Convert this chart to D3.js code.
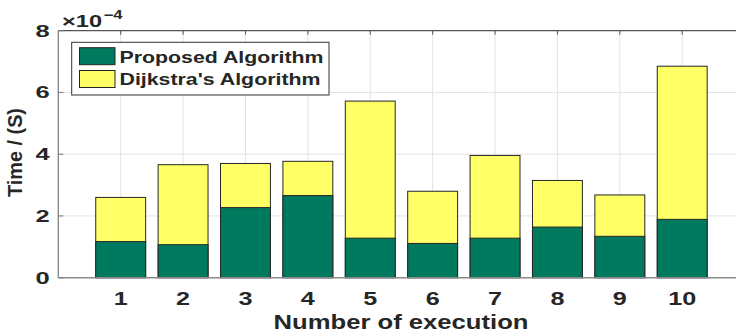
<!DOCTYPE html>
<html>
<head>
<meta charset="utf-8">
<script src="https://cdn.jsdelivr.net/npm/d3@7/dist/d3.min.js"></script>
<style>
  html, body { margin: 0; padding: 0; background: #fff; }
  svg { display: block; }
  text { font-family: "Liberation Sans", Arial, sans-serif; font-weight: bold; fill: #262626; }
</style>
</head>
<body>
<svg id="chart" width="736" height="335"></svg>
<script>
// Execution time per run (seconds)
const runs = [1, 2, 3, 4, 5, 6, 7, 8, 9, 10];
const proposed = [1.17e-4, 1.07e-4, 2.27e-4, 2.66e-4, 1.28e-4, 1.11e-4, 1.28e-4, 1.64e-4, 1.34e-4, 1.89e-4];
const dijkstra = [2.60e-4, 3.66e-4, 3.70e-4, 3.77e-4, 5.72e-4, 2.80e-4, 3.96e-4, 3.15e-4, 2.68e-4, 6.85e-4];
const seriesNames = ["Proposed Algorithm", "Dijkstra's Algorithm"];
const yTicks = [0, 2e-4, 4e-4, 6e-4, 8e-4];
const exponent = -4;

const plot = { left: 58.3, right: 744.6, top: 30.7, bottom: 277.7 };
const SX = 1.4; // horizontal stretch of the lettering

const green = "#007a5e", yellow = "#ffff66";

const svg = d3.select("#chart");
const x = d3.scaleLinear().domain([0, 11]).range([plot.left, plot.right]);
const y = d3.scaleLinear().domain([0, 8e-4]).range([plot.bottom, plot.top]);
const barW = x(0.8) - x(0);

// stretched text helper
function label(g, txt, px, py, opts) {
  return g.append("text")
    .attr("transform", `translate(${px},${py}) scale(${opts.sx || SX},1)`)
    .attr("font-size", opts.size)
    .attr("text-anchor", opts.anchor || "middle")
    .text(txt);
}

// text with a fixed rendered width
function fitted(g, txt, px, py, size, width, anchor) {
  return g.append("text")
    .attr("x", px).attr("y", py)
    .attr("font-size", size)
    .attr("text-anchor", anchor || "start")
    .attr("textLength", width).attr("lengthAdjust", "spacingAndGlyphs")
    .text(txt);
}

// grid
const grid = svg.append("g").attr("stroke", "#e3e3e3").attr("stroke-width", 1);
grid.selectAll("line.v").data(runs).join("line")
  .attr("x1", d => x(d)).attr("x2", d => x(d))
  .attr("y1", plot.top).attr("y2", plot.bottom);
grid.selectAll("line.h").data(yTicks.slice(1, -1)).join("line")
  .attr("x1", plot.left).attr("x2", plot.right)
  .attr("y1", d => y(d)).attr("y2", d => y(d));

// bars: Dijkstra behind, Proposed in front
const bars = svg.append("g").attr("stroke", "#262626").attr("stroke-width", 1);
bars.selectAll("rect.dij").data(runs).join("rect")
  .attr("x", d => x(d) - barW / 2)
  .attr("width", barW)
  .attr("y", (d, i) => y(dijkstra[i]))
  .attr("height", (d, i) => y(0) - y(dijkstra[i]))
  .attr("fill", yellow);
bars.selectAll("rect.prop").data(runs).join("rect")
  .attr("x", d => x(d) - barW / 2)
  .attr("width", barW)
  .attr("y", (d, i) => y(proposed[i]))
  .attr("height", (d, i) => y(0) - y(proposed[i]))
  .attr("fill", green);

// axes box
const axes = svg.append("g").attr("fill", "none");
axes.append("line").attr("x1", plot.left).attr("x2", plot.right).attr("y1", plot.top).attr("y2", plot.top)
  .attr("stroke", "#555").attr("stroke-width", 1.2);
axes.append("line").attr("x1", plot.left).attr("x2", plot.right).attr("y1", plot.bottom).attr("y2", plot.bottom)
  .attr("stroke", "#8a8a8a").attr("stroke-width", 1.6);
axes.append("line").attr("x1", plot.left).attr("x2", plot.left).attr("y1", plot.top).attr("y2", plot.bottom)
  .attr("stroke", "#8a8a8a").attr("stroke-width", 1.4);

// tick marks (inward)
axes.selectAll("line.tt").data(runs).join("line")
  .attr("x1", d => x(d)).attr("x2", d => x(d))
  .attr("y1", plot.top).attr("y2", plot.top + 4)
  .attr("stroke", "#555");
axes.selectAll("line.lt").data(yTicks).join("line")
  .attr("x1", plot.left).attr("x2", plot.left + 5)
  .attr("y1", d => y(d)).attr("y2", d => y(d))
  .attr("stroke", "#777");

// tick labels
const tl = svg.append("g");
runs.forEach(r => label(tl, String(r), x(r), 304.8, { size: 18 }));
yTicks.forEach(v => label(tl, d3.format("d")(Math.round(v / Math.pow(10, exponent))), 49.8, y(v) + 6, { size: 17, anchor: "end", sx: 1.5 }));

// exponent note
const ex = svg.append("g");
fitted(ex, "\u00d710", 62, 26.5, 17, 40);
fitted(ex, "\u22124", 103.5, 18.5, 12, 19);

// axis titles
fitted(svg, "Number of execution", 401, 328.5, 19.5, 255, "middle");
svg.append("text")
  .attr("transform", "translate(21.5,152.5) rotate(-90)")
  .attr("font-size", 19.5).attr("text-anchor", "middle")
  .attr("textLength", 89).attr("lengthAdjust", "spacingAndGlyphs")
  .text("Time / (S)");

// legend
const lg = svg.append("g");
lg.append("rect").attr("x", 71.7).attr("y", 42.3).attr("width", 257.3).attr("height", 52.7)
  .attr("fill", "#fff").attr("stroke", "#333").attr("stroke-width", 1);
const legendRows = [
  { name: seriesNames[0], color: green, top: 47.7 },
  { name: seriesNames[1], color: yellow, top: 70.5 }
];
const textWidths = [204, 201];
legendRows.forEach((row, i) => {
  lg.append("rect").attr("x", 79.5).attr("y", row.top).attr("width", 35.5).attr("height", 17)
    .attr("fill", row.color).attr("stroke", "#262626").attr("stroke-width", 1);
  fitted(lg, row.name, 119.5, row.top + 14.8, 17, textWidths[i]);
});
</script>
</body>
</html>
